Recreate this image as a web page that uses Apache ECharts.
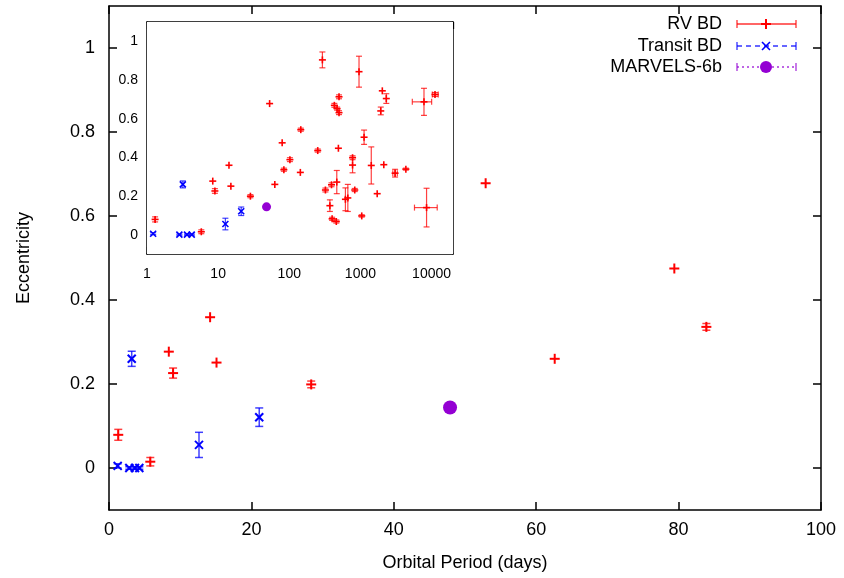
<!DOCTYPE html>
<html>
<head>
<meta charset="utf-8">
<script src="https://cdn.jsdelivr.net/npm/echarts@6/dist/echarts.min.js"></script>
<style>html,body{margin:0;padding:0;background:#fff}#c{width:844px;height:578px}</style>
</head>
<body>
<div id="c"></div>
<script>
// ---- data ----
const rvPeriod = [1.3, 5.8, 8.4, 9.0, 14.2, 15.1, 28.4, 52.9, 62.6, 79.4, 83.9, 102, 145, 143, 251, 292, 322, 392, 372, 400, 430, 470, 458, 465, 490, 500, 500, 615, 665, 775, 775, 832, 955, 1043, 1125, 1420, 1720, 1930, 2030, 2310, 2130, 3070, 4350, 7820, 8500, 11170];
const rvEcc = [0.079, 0.015, 0.277, 0.226, 0.359, 0.251, 0.199, 0.678, 0.26, 0.475, 0.336, 0.388, 0.543, 0.322, 0.435, 0.904, 0.231, 0.258, 0.15, 0.082, 0.669, 0.652, 0.068, 0.272, 0.447, 0.713, 0.631, 0.183, 0.19, 0.398, 0.36, 0.231, 0.843, 0.097, 0.504, 0.358, 0.212, 0.64, 0.744, 0.704, 0.362, 0.318, 0.339, 0.687, 0.14, 0.725];
const rvEccErr = [0.013, 0.01, 0, 0.012, 0, 0, 0.008, 0, 0, 0, 0.008, 0.01, 0.008, 0, 0.008, 0.041, 0.01, 0.01, 0.03, 0.008, 0.01, 0.008, 0.008, 0.06, 0, 0.01, 0.01, 0.059, 0.07, 0.01, 0.04, 0.008, 0.08, 0.006, 0.037, 0.096, 0, 0.02, 0, 0.025, 0, 0.02, 0.005, 0.07, 0.10, 0.01];
const rvPeriodLo = [0,0,0,0,0,0,0,0,0,0, 0,0,0,0,0,0,0,0,0,0, 0,0,0,0,0,0,0,0,0,0, 0,0,0,0,0,0,0,0,0,0, 0,2850,0,5360,5750,10230];
const rvPeriodHi = [0,0,0,0,0,0,0,0,0,0, 0,0,0,0,0,0,0,0,0,0, 0,0,0,0,0,0,0,0,0,0, 0,0,0,0,0,0,0,0,0,0, 0,3300,0,10020,12000,12410];

const trPeriod = [1.22, 3.19, 2.85, 3.65, 4.26, 12.64, 21.1];
const trEcc = [0.005, 0.26, 0, 0, 0, 0.055, 0.121];
const trEccErr = [0.005, 0.018, 0.003, 0.003, 0.003, 0.03, 0.022];

const mvPeriod = [47.9];
const mvEcc = [0.144];

const eccTicks = [0, 0.2, 0.4, 0.6, 0.8, 1];
const insetMinorTicks = [2, 5, 8, 20, 50, 80, 200, 500, 800, 2000, 5000, 8000];

const seriesNames = ['RV BD', 'Transit BD', 'MARVELS-6b'];

// ---- build ----
function rows(P, E, EE, PL, PH) {
  return P.map((p, i) => [p, E[i], EE ? EE[i] : 0, PL ? PL[i] : 0, PH ? PH[i] : 0]);
}
const rvRows = rows(rvPeriod, rvEcc, rvEccErr, rvPeriodLo, rvPeriodHi);
const trRows = rows(trPeriod, trEcc, trEccErr);
const mvRows = rows(mvPeriod, mvEcc);

const RED = '#ff0000', BLUE = '#0000ff', PURPLE = '#9400d3';

function makeRender(kind, color, s) {
  return function (params, api) {
    const p = api.value(0), e = api.value(1), ee = api.value(2), pl = api.value(3), ph = api.value(4);
    const c = api.coord([p, e]);
    const ch = [];
    const barStyle = { stroke: color, lineWidth: s.barW, opacity: 0.75 };
    if (ee > 0) {
      const t = api.coord([p, e + ee]), b = api.coord([p, e - ee]);
      ch.push({ type: 'line', shape: { x1: c[0], y1: t[1], x2: c[0], y2: b[1] }, style: barStyle });
      ch.push({ type: 'line', shape: { x1: c[0] - s.cap, y1: t[1], x2: c[0] + s.cap, y2: t[1] }, style: barStyle });
      ch.push({ type: 'line', shape: { x1: c[0] - s.cap, y1: b[1], x2: c[0] + s.cap, y2: b[1] }, style: barStyle });
    }
    if (pl > 0 && ph > 0) {
      const l = api.coord([pl, e]), r = api.coord([ph, e]);
      ch.push({ type: 'line', shape: { x1: l[0], y1: c[1], x2: r[0], y2: c[1] }, style: barStyle });
      ch.push({ type: 'line', shape: { x1: l[0], y1: c[1] - s.cap, x2: l[0], y2: c[1] + s.cap }, style: barStyle });
      ch.push({ type: 'line', shape: { x1: r[0], y1: c[1] - s.cap, x2: r[0], y2: c[1] + s.cap }, style: barStyle });
    }
    const mk = { stroke: color, lineWidth: s.mkW };
    if (kind === 'plus') {
      ch.push({ type: 'line', shape: { x1: c[0] - s.m, y1: c[1], x2: c[0] + s.m, y2: c[1] }, style: mk });
      ch.push({ type: 'line', shape: { x1: c[0], y1: c[1] - s.m, x2: c[0], y2: c[1] + s.m }, style: mk });
    } else if (kind === 'cross') {
      const m = s.mx;
      ch.push({ type: 'line', shape: { x1: c[0] - m, y1: c[1] - m, x2: c[0] + m, y2: c[1] + m }, style: mk });
      ch.push({ type: 'line', shape: { x1: c[0] - m, y1: c[1] + m, x2: c[0] + m, y2: c[1] - m }, style: mk });
    } else {
      ch.push({ type: 'circle', shape: { cx: c[0], cy: c[1], r: s.r }, style: { fill: color } });
    }
    return { type: 'group', children: ch };
  };
}

const mainSize = { m: 5, mx: 4, mkW: 2, cap: 4, barW: 1.5, r: 7 };
const insetSize = { m: 3.5, mx: 3, mkW: 1.6, cap: 3, barW: 1.2, r: 4.5 };

function custom(name, rowsData, kind, color, size, xi, yi) {
  return {
    type: 'custom', name: name, xAxisIndex: xi, yAxisIndex: yi, clip: true,
    renderItem: makeRender(kind, color, size),
    encode: { x: 0, y: 1 },
    data: rowsData, z: 5
  };
}

const FONT = 'Liberation Sans, Arial, Helvetica, sans-serif';
const tickFmt = v => String(+(+v).toFixed(1));
const logFmt = v => String(Math.round(v));

function valueY(gridIndex, pos, labels, fontSize, tickLen, margin) {
  return {
    type: 'value', gridIndex, position: pos, min: -0.1, max: 1.1,
    axisLine: { show: true, onZero: false, lineStyle: { color: '#000', width: 1.5 } },
    axisTick: { show: true, inside: true, length: tickLen, customValues: eccTicks, lineStyle: { color: '#000', width: 1.5 } },
    axisLabel: { show: labels, customValues: eccTicks, formatter: tickFmt, color: '#000', fontSize, fontFamily: FONT, margin },
    splitLine: { show: false }
  };
}

const option = {
  animation: false,
  backgroundColor: '#fff',
  grid: [
    { left: 109, right: 23, top: 6, bottom: 68, show: false },
    { left: 147, top: 22, width: 306, height: 232, show: true, backgroundColor: '#fff', borderWidth: 0, z: 3 }
  ],
  xAxis: [
    {
      type: 'value', gridIndex: 0, position: 'bottom', min: 0, max: 100, interval: 20,
      name: 'Orbital Period (days)', nameLocation: 'middle', nameGap: 44,
      nameTextStyle: { fontSize: 18, fontFamily: FONT, color: '#000' },
      axisLine: { show: true, onZero: false, lineStyle: { color: '#000', width: 1.5 } },
      axisTick: { show: true, inside: true, length: 8, lineStyle: { color: '#000', width: 1.5 } },
      axisLabel: { color: '#000', fontSize: 18, fontFamily: FONT, margin: 11 },
      splitLine: { show: false }
    },
    {
      type: 'value', gridIndex: 0, position: 'top', min: 0, max: 100, interval: 20,
      axisLine: { show: true, onZero: false, lineStyle: { color: '#000', width: 1.5 } },
      axisTick: { show: true, inside: true, length: 8, lineStyle: { color: '#000', width: 1.5 } },
      axisLabel: { show: false }, splitLine: { show: false }
    },
    {
      type: 'log', logBase: 10, gridIndex: 1, position: 'bottom', min: 1, max: 20000,
      axisLine: { show: true, onZero: false, lineStyle: { color: '#000', width: 1.5 } },
      axisTick: { show: true, inside: true, length: 7, lineStyle: { color: '#000', width: 1.3 } },
      axisLabel: { color: '#000', fontSize: 14, fontFamily: FONT, margin: 13, showMaxLabel: false, formatter: logFmt },
      splitLine: { show: false }
    },
    {
      type: 'log', logBase: 10, gridIndex: 1, position: 'top', min: 1, max: 20000,
      axisLine: { show: true, onZero: false, lineStyle: { color: '#000', width: 1.5 } },
      axisTick: { show: true, inside: true, length: 7, lineStyle: { color: '#000', width: 1.3 } },
      axisLabel: { show: false }, splitLine: { show: false }
    },
    {
      type: 'log', logBase: 10, gridIndex: 1, position: 'bottom', min: 1, max: 20000,
      axisLine: { show: false },
      axisTick: { show: true, inside: true, length: 4, customValues: insetMinorTicks, lineStyle: { color: '#000', width: 1.2 } },
      axisLabel: { show: false }, splitLine: { show: false }
    },
    {
      type: 'log', logBase: 10, gridIndex: 1, position: 'top', min: 1, max: 20000,
      axisLine: { show: false },
      axisTick: { show: true, inside: true, length: 4, customValues: insetMinorTicks, lineStyle: { color: '#000', width: 1.2 } },
      axisLabel: { show: false }, splitLine: { show: false }
    }
  ],
  yAxis: [
    Object.assign(valueY(0, 'left', true, 18, 8, 14), {
      name: 'Eccentricity', nameLocation: 'middle', nameGap: 76, nameRotate: 90,
      nameTextStyle: { fontSize: 18, fontFamily: FONT, color: '#000' }
    }),
    valueY(0, 'right', false, 18, 8, 14),
    valueY(1, 'left', true, 14, 7, 9),
    valueY(1, 'right', false, 14, 7, 9)
  ],
  series: [
    custom(seriesNames[0], rvRows.filter(r => r[0] <= 100), 'plus', RED, mainSize, 0, 0),
    custom(seriesNames[1], trRows, 'cross', BLUE, mainSize, 0, 0),
    custom(seriesNames[2], mvRows, 'circle', PURPLE, mainSize, 0, 0),
    custom(seriesNames[0], rvRows, 'plus', RED, insetSize, 2, 2),
    custom(seriesNames[1], trRows, 'cross', BLUE, insetSize, 2, 2),
    custom(seriesNames[2], mvRows, 'circle', PURPLE, insetSize, 2, 2)
  ],
  graphic: []
};

// legend (gnuplot style: text right-aligned, sample to the right)
const legendRows = [
  { y: 24, color: RED, dash: null, kind: 'plus' },
  { y: 46, color: BLUE, dash: [5, 4], kind: 'cross' },
  { y: 67, color: PURPLE, dash: [2, 3], kind: 'circle' }
];
legendRows.forEach((r, i) => {
  const x1 = 737, x2 = 796, xm = 766;
  const st = { stroke: r.color, lineWidth: 1.3, lineDash: r.dash, opacity: 0.8 };
  const g = [
    { type: 'text', x: 722, y: r.y, style: { text: seriesNames[i], fontSize: 18, fontFamily: FONT, fill: '#000', align: 'right', verticalAlign: 'middle' } },
    { type: 'line', shape: { x1, y1: r.y, x2, y2: r.y }, style: st },
    { type: 'line', shape: { x1, y1: r.y - 4, x2: x1, y2: r.y + 4 }, style: Object.assign({}, st, { lineDash: null }) },
    { type: 'line', shape: { x1: x2, y1: r.y - 4, x2, y2: r.y + 4 }, style: Object.assign({}, st, { lineDash: null }) }
  ];
  if (r.kind === 'plus') {
    g.push({ type: 'line', shape: { x1: xm - 5, y1: r.y, x2: xm + 5, y2: r.y }, style: { stroke: r.color, lineWidth: 2 } });
    g.push({ type: 'line', shape: { x1: xm, y1: r.y - 5, x2: xm, y2: r.y + 5 }, style: { stroke: r.color, lineWidth: 2 } });
  } else if (r.kind === 'cross') {
    g.push({ type: 'line', shape: { x1: xm - 4, y1: r.y - 4, x2: xm + 4, y2: r.y + 4 }, style: { stroke: r.color, lineWidth: 1.6 } });
    g.push({ type: 'line', shape: { x1: xm - 4, y1: r.y + 4, x2: xm + 4, y2: r.y - 4 }, style: { stroke: r.color, lineWidth: 1.6 } });
  } else {
    g.push({ type: 'circle', shape: { cx: xm, cy: r.y, r: 6 }, style: { fill: r.color } });
  }
  g.forEach(el => { el.z = 10; option.graphic.push(el); });
});

const chart = echarts.init(document.getElementById('c'), null, { renderer: 'canvas' });
chart.setOption(option);
</script>
</body>
</html>
